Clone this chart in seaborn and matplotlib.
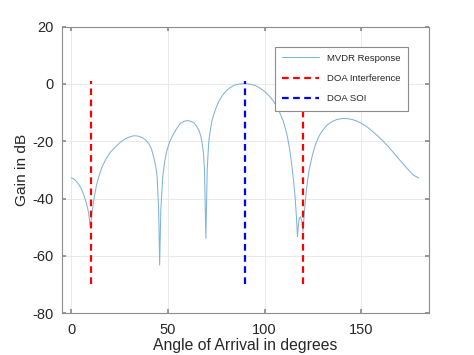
import matplotlib
matplotlib.use("Agg")
import matplotlib.pyplot as plt
import seaborn as sns
import pandas as pd

# MVDR response (angle in degrees, gain in dB)
angle = [0, 1.5, 2.9, 4.3, 5.5, 6.6, 7.6, 8.4, 9.0, 9.8, 10.3, 10.7, 11.3, 11.9, 13.0,
         14.2, 15.8, 17.6, 20.0, 22.8, 25.5, 28.0, 30.2, 32.3, 34.5, 36.6, 38.5,
         40.0, 41.5, 42.6, 43.6, 44.4, 45.2, 45.7, 46.3, 47.3, 48.3, 49.5, 51.0,
         53.0, 54.7, 56.4, 58.1, 59.9, 61.7, 63.4, 64.8, 66.0, 67.0, 67.7, 68.4,
         68.9, 69.6, 70.3, 70.8, 71.2, 72.0, 72.7, 74.3, 76.1, 78.2, 80.4, 82.6,
         84.8, 87.4, 89.9, 92.5, 95.1, 97.7, 100.3, 102.9, 105.5, 107.7, 109.8,
         111.5, 112.9, 114.0, 115.0, 115.8, 116.4, 117.0, 117.5, 117.9, 118.6,
         119.3, 119.8, 120.3, 120.7, 121.3, 121.9, 123.0, 124.5, 126.0, 127.9,
         130.0, 132.2, 134.8, 137.4, 140.0, 142.6, 145.2, 147.8, 150.4, 153.0,
         155.5, 158.1, 160.7, 163.3, 165.9, 168.5, 171.1, 173.7, 175.5, 177.1,
         179.7]
gain = [-32.8, -33.3, -34.2, -35.5, -37.1, -39.0, -41.2, -43.2, -45.2, -50.0, -47.4,
        -45.2, -42.1, -39.4, -35.5, -32.4, -29.2, -26.6, -24.0, -22.0, -20.3, -19.1,
        -18.5, -18.1, -18.2, -18.7, -19.6, -20.8, -22.7, -25.5, -28.5, -32.4, -44.1,
        -63.2, -44.1, -32.4, -27.0, -23.1, -20.0, -17.3, -15.4, -13.8, -13.1, -12.8,
        -13.0, -13.6, -14.7, -16.2, -18.2, -20.8, -24.5, -30.1, -53.9, -30.1, -23.5,
        -19.5, -15.9, -13.0, -9.4, -6.3, -4.0, -2.2, -1.1, -0.3, 0.0, 0.1, -0.1, -0.5,
        -1.5, -2.8, -4.6, -6.9, -9.8, -13.3, -17.5, -22.6, -28.0, -34.2, -39.8, -45.8,
        -53.4, -49.0, -47.0, -46.4, -48.1, -51.6, -47.0, -43.5, -39.2, -35.3, -30.0,
        -25.5, -21.7, -18.5, -16.2, -14.4, -13.2, -12.4, -12.1, -12.1, -12.4, -13.0,
        -13.9, -15.0, -16.4, -17.9, -19.6, -21.4, -23.4, -25.5, -27.5, -29.5, -30.8,
        -31.9, -32.8]

doa_interference = [10, 120]
doa_soi = [90]
marker_span = [-70, 1]

xticks = [0, 50, 100, 150]
yticks = [-80, -60, -40, -20, 0, 20]

sns.set_theme(style="white")
plt.rcParams['font.family'] = ['Liberation Sans', 'DejaVu Sans']
plt.rcParams['axes.unicode_minus'] = False

fig = plt.figure(figsize=(4.74, 3.55), dpi=100)
ax = fig.add_axes([0.130, 0.118, 0.775, 0.807])

df = pd.DataFrame({"angle": angle, "gain": gain})
sns.lineplot(data=df, x="angle", y="gain", ax=ax, color="#80b3d9", linewidth=0.75,
             label="MVDR Response", sort=False, estimator=None)

for i, a in enumerate(doa_interference):
    ax.plot([a, a], marker_span, color="#ff0000", linewidth=1.6, dashes=(3.0, 2.0),
            label="DOA Interference" if i == 0 else None)
for a in doa_soi:
    ax.plot([a, a], marker_span, color="#0000ff", linewidth=1.6, dashes=(3.0, 2.0),
            label="DOA SOI")

ax.set_xlim(-5, 185)
ax.set_ylim(-80, 20)
ax.set_xticks(xticks)
ax.set_yticks(yticks)
ax.grid(True, color="#e6e6e6", linewidth=0.6)
for s in ax.spines.values():
    s.set_color("#8c8c8c")
    s.set_linewidth(0.8)
ax.tick_params(direction="in", length=3, color="#8c8c8c", labelsize=10.5,
               labelcolor="#262626", top=True, right=True, bottom=True, left=True)
ax.tick_params(axis="x", pad=7)
ax.tick_params(axis="y", pad=6)

ax.set_xlabel("Angle of Arrival in degrees", fontsize=11.3, color="#262626", labelpad=1)
ax.set_ylabel("Gain in dB", fontsize=11.1, color="#262626", labelpad=2)

leg = ax.legend(loc="upper right", bbox_to_anchor=(0.943, 0.930), borderaxespad=0,
                fontsize=6.8, frameon=True, fancybox=False, edgecolor="#8c8c8c",
                framealpha=1, handlelength=3.9, labelspacing=1.2, borderpad=0.75,
                handletextpad=0.9)
leg.get_frame().set_linewidth(0.8)

fig.savefig("out.png", dpi=100)
